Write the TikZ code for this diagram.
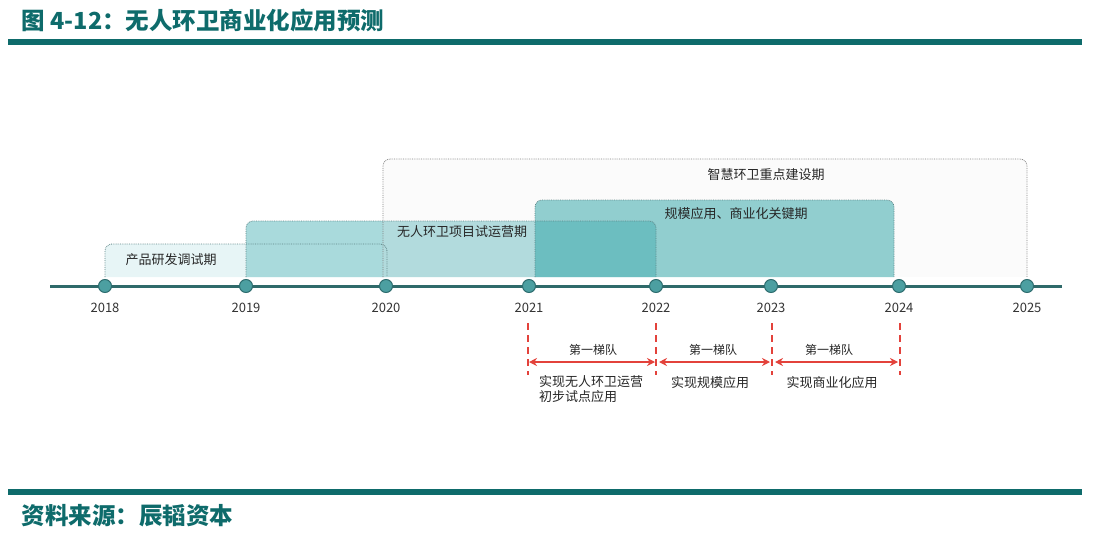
\documentclass[tikz,border=0pt]{standalone}
\usepackage{fontspec}
\setmainfont{Noto Sans CJK SC}
\usetikzlibrary{arrows.meta}

\definecolor{headteal}{HTML}{0E6B6B}
\definecolor{axisteal}{HTML}{2F6A6A}
\definecolor{dotfill}{HTML}{4C9FA1}
\definecolor{dotline}{HTML}{2D6D6F}
\definecolor{yeartext}{HTML}{333333}
\definecolor{edgegray}{HTML}{5E8486}
\definecolor{fillA}{HTML}{E7F5F6}
\definecolor{fillB}{HTML}{A9DADC}
\definecolor{fillC}{HTML}{E6E6E6}
\definecolor{fillD}{RGB}{40,162,164}
\definecolor{tierred}{HTML}{E3423B}

\begin{document}
\begin{tikzpicture}[x=1pt,y=-1pt,
    phase/.style={draw=edgegray, densely dotted, line width=0.8pt, rounded corners=7pt},
    phasetext/.style={font=\fontsize{13}{15}\selectfont, text=black!85},
    yeardot/.style={circle, draw=dotline, fill=dotfill, line width=1pt, minimum size=13pt, inner sep=0pt},
    yearlabel/.style={font=\fontsize{13}{15}\selectfont, text=yeartext},
    tierline/.style={draw=tierred, line width=1.5pt, dash pattern=on 7pt off 5pt},
    tierarrow/.style={draw=tierred, line width=1.3pt, {Stealth[length=8pt,width=8pt]}-{Stealth[length=8pt,width=8pt]}},
    tiertext/.style={font=\fontsize{12}{14}\selectfont, text=black!85},
    goaltext/.style={font=\fontsize{13}{15}\selectfont, text=black!85, align=left}]

\useasboundingbox (0,0) rectangle (1102,546);

% header and footer
\node[anchor=west, text=headteal, font=\fontsize{23.5}{26}\selectfont\bfseries] (title) at (18,21) {图 4-12：无人环卫商业化应用预测};
\fill[headteal] (8,38.5) rectangle (1082,45);
\fill[headteal] (8,489) rectangle (1082,495);
\node[anchor=west, text=headteal, font=\fontsize{23.5}{26}\selectfont\bfseries] (source) at (18,516) {资料来源：辰韬资本};

% phases: fills first, dotted edges on top
\begin{scope}
    \fill[fillA, rounded corners=7pt] (105,277) -- (105,244) -- (387,244) -- (387,277);
    \fill[fillB, rounded corners=7pt] (246,277) -- (246,221) -- (656,221) -- (656,277);
    \fill[fillC, fill opacity=0.15, rounded corners=7pt] (383,277) -- (383,159) -- (1027,159) -- (1027,277);
    \fill[fillD, fill opacity=0.5, rounded corners=7pt] (535,277) -- (535,200) -- (894,200) -- (894,277);

    \draw[phase] (105,277) -- (105,244) -- (387,244) -- (387,277);
    \draw[phase] (246,277) -- (246,221) -- (656,221) -- (656,277);
    \draw[phase, draw=gray] (383,277) -- (383,159) -- (1027,159) -- (1027,277);
    \draw[phase] (535,277) -- (535,200) -- (894,200) -- (894,277);

    \node[phasetext] (p1) at (171,260) {产品研发调试期};
    \node[phasetext] (p2) at (462,232) {无人环卫项目试运营期};
    \node[phasetext] (p3) at (766,175) {智慧环卫重点建设期};
    \node[phasetext] (p4) at (736,214) {规模应用、商业化关键期};
\end{scope}

% timeline
\coordinate (t0) at (50,286);
\coordinate (t1) at (1062,286);
\draw[axisteal, line width=3pt] (t0) -- (t1);
\foreach \yr/\xx in {2018/105, 2019/246, 2020/386, 2021/529, 2022/656, 2023/771, 2024/899, 2025/1027} {
    \node[yeardot] (y\yr) at (\xx,286) {};
    \node[yearlabel] (l\yr) at (\xx,308) {\yr};
}

% tiers
\begin{scope}
    \foreach \k/\xx in {1/528, 2/656, 3/772, 4/900} {
        \coordinate (a\k) at (\xx,323);
        \coordinate (b\k) at (\xx,375);
        \coordinate (m\k) at (\xx,362);
        \draw[tierline] (a\k) -- (b\k);
    }
    \draw[tierarrow, shorten <=1pt, shorten >=1pt] (m1) -- (m2);
    \draw[tierarrow, shorten <=3pt, shorten >=2pt] (m2) -- (m3);
    \draw[tierarrow, shorten <=3pt, shorten >=2pt] (m3) -- (m4);

    \node[tiertext] (q1) at (593,350) {第一梯队};
    \node[tiertext] (q2) at (713,350) {第一梯队};
    \node[tiertext] (q3) at (829,350) {第一梯队};

    \node[goaltext, anchor=north west, inner sep=0pt] (g1) at (539,375) {实现无人环卫运营\\初步试点应用};
    \node[goaltext] (g2) at (710,383) {实现规模应用};
    \node[goaltext] (g3) at (832,383) {实现商业化应用};
\end{scope}
\end{tikzpicture}
\end{document}
